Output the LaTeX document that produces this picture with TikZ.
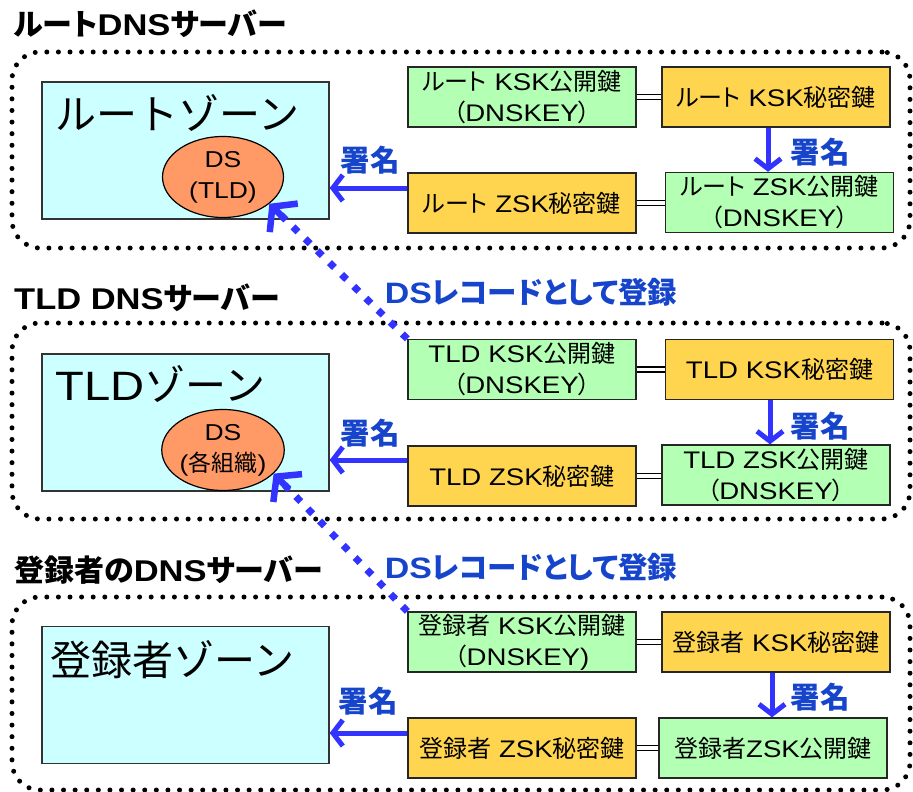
\documentclass[tikz,border=0pt]{standalone}
\usepackage{fontspec}
\setmainfont{Liberation Sans}[FakeStretch=1.15]
\newfontfamily\jpf{Noto Sans CJK JP}[RawFeature=+palt]
\newfontfamily\jpw{Noto Sans CJK JP}
\newcommand\J[1]{{\jpf #1}}
\newcommand\W[1]{{\jpw #1}}
\usetikzlibrary{arrows.meta,shapes.geometric,calc}
\definecolor{zonecyan}{HTML}{CCFFFF}
\definecolor{keygreen}{HTML}{B3FFB3}
\definecolor{keyorange}{HTML}{FFD54F}
\definecolor{dsorange}{HTML}{FF9966}
\definecolor{arrowblue}{HTML}{3333FF}
\definecolor{labelblue}{HTML}{1645CC}
\tikzset{
  keybox/.style={draw=black!85, line width=1.3pt, minimum width=228pt, minimum height=60pt, inner sep=0pt, align=center, font=\fontsize{24}{31}\selectfont},
  pub/.style={keybox, fill=keygreen},
  sec/.style={keybox, fill=keyorange},
  zone/.style={draw=black!80, line width=1.3pt, fill=zonecyan, minimum width=287pt, minimum height=137pt, inner sep=0pt},
  zonetext/.style={anchor=west, inner sep=0pt, font=\fontsize{41}{42}\selectfont},
  dsnode/.style={ellipse, draw, line width=1.2pt, fill=dsorange, minimum width=121pt, minimum height=81pt, inner sep=0pt, align=center, font=\fontsize{23}{31}\selectfont},
  server/.style={draw=black, line width=5pt, line cap=round, dash pattern=on 0pt off 11.6pt, rounded corners=28pt, inner sep=0pt},
  sign/.style={draw=arrowblue, line width=5pt, -{Straight Barb[length=10pt,width=26pt]}},
  regline/.style={draw=arrowblue, line width=7pt, dash pattern=on 7pt off 10pt, shorten >=16pt},
  reghead/.style={draw=arrowblue, line width=6.5pt, line cap=round, -{Straight Barb[length=16pt,width=40pt]}},
  eq/.style={double, double distance=3.5pt, line width=1.7pt},
  bluelabel/.style={text=labelblue, inner sep=0pt, font=\bfseries\fontsize{29.5}{30}\selectfont},
  title/.style={anchor=west, inner sep=0pt, font=\bfseries\fontsize{30}{31}\selectfont}
}
\begin{document}
\begin{tikzpicture}[x=1pt,y=-1pt]
\useasboundingbox (0,0) rectangle (913,792);
% server frames
\node[server, minimum width=898pt, minimum height=196pt] (srv1) at (461,150) {};
\node[server, minimum width=898pt, minimum height=196pt] (srv2) at (461,421) {};
\node[server, minimum width=898pt, minimum height=193pt] (srv3) at (461,693.5) {};
% titles
\node[title] (t1) at (14,24) {\J{ルート}DNS\J{サーバー}};
\node[title] (t2) at (14,298) {TLD DNS\J{サーバー}};
\node[title] (t3) at (14,570) {\J{登録者の}DNS\J{サーバー}};
% root section
\node[zone] (rzone) at (185.5,150.5) {};
\node[zonetext] (rzt) at (55,113) {\W{ルートゾーン}};
\node[dsnode] (rds) at (223,177) {DS\\(TLD)};
\node[pub] (rkp) at (522,97) {\J{ルート} KSK\J{公開鍵}\\\J{（}DNSKEY\J{）}};
\node[sec] (rks) at (776,97) {\J{ルート} KSK\J{秘密鍵}};
\node[sec] (rzs) at (522,203) {\J{ルート} ZSK\J{秘密鍵}};
\node[pub] (rzp) at (779.5,202.5) {\J{ルート} ZSK\J{公開鍵}\\\J{（}DNSKEY\J{）}};
\draw[eq] (rkp.east) -- (rks.west);
\draw[eq] (rzs.east) -- (rzp.west |- rzs.east);
\draw[sign] (rks.south -| 768,0) -- (rzp.north -| 768,0);
\draw[sign] (rzs.west |- 0,188) -- (rzone.east |- 0,188);
\node[bluelabel] (rl1) at (820,152) {\J{署名}};
\node[bluelabel] (rl2) at (370,160) {\J{署名}};
% TLD section
\node[zone] (tzone) at (185.5,422.5) {};
\node[zonetext] (tzt) at (55,384) {TLD\W{ゾーン}};
\node[dsnode] (tds) at (223,450) {DS\\(\J{各組織})};
\node[pub] (tkp) at (522,369.5) {TLD KSK\J{公開鍵}\\\J{（}DNSKEY\J{）}};
\node[sec] (tks) at (779.5,369.5) {TLD KSK\J{秘密鍵}};
\node[sec] (tzs) at (522,476) {TLD ZSK\J{秘密鍵}};
\node[pub] (tzp) at (776,475) {TLD ZSK\J{公開鍵}\\\J{（}DNSKEY\J{）}};
\draw[eq] (tkp.east) -- (tks.west);
\draw[eq] (tzs.east) -- (tzp.west |- tzs.east);
\draw[sign] (tks.south -| 770,0) -- (tzp.north -| 770,0);
\draw[sign] (tzs.west |- 0,460) -- (tzone.east |- 0,460);
\node[bluelabel] (tl1) at (820,426) {\J{署名}};
\node[bluelabel] (tl2) at (370,433) {\J{署名}};
% registrant section
\node[zone] (gzone) at (185.5,695) {};
\node[zonetext] (gzt) at (50,660) {\W{登録者ゾーン}};
\node[pub] (gkp) at (522,642) {\J{登録者} KSK\J{公開鍵}\\\J{（}DNSKEY)};
\node[sec] (gks) at (776,642) {\J{登録者} KSK\J{秘密鍵}};
\node[sec] (gzs) at (522,748) {\J{登録者} ZSK\J{秘密鍵}};
\node[pub] (gzp) at (773,748) {\J{登録者}ZSK\J{公開鍵}};
\draw[eq] (gkp.east) -- (gks.west);
\draw[eq] (gzs.east) -- (gzp.west);
\draw[sign] (gks.south -| 772,0) -- (gzp.north -| 772,0);
\draw[sign] (gzs.west |- 0,733) -- (gzone.east |- 0,733);
\node[bluelabel] (gl1) at (820,697) {\J{署名}};
\node[bluelabel] (gl2) at (368,701) {\J{署名}};
% DS registration
\draw[regline] (tkp.north west) -- (rds.-30);
\draw[reghead] ($(rds.-30)!20pt!(tkp.north west)$) -- (rds.-30);
\draw[regline] (gkp.north west) -- (tds.-25);
\draw[reghead] ($(tds.-25)!20pt!(gkp.north west)$) -- (tds.-25);
\node[bluelabel] (dl1) at (531,292) {DS\J{レコードとして登録}};
\node[bluelabel] (dl2) at (531,567) {DS\J{レコードとして登録}};
\end{tikzpicture}
\end{document}
